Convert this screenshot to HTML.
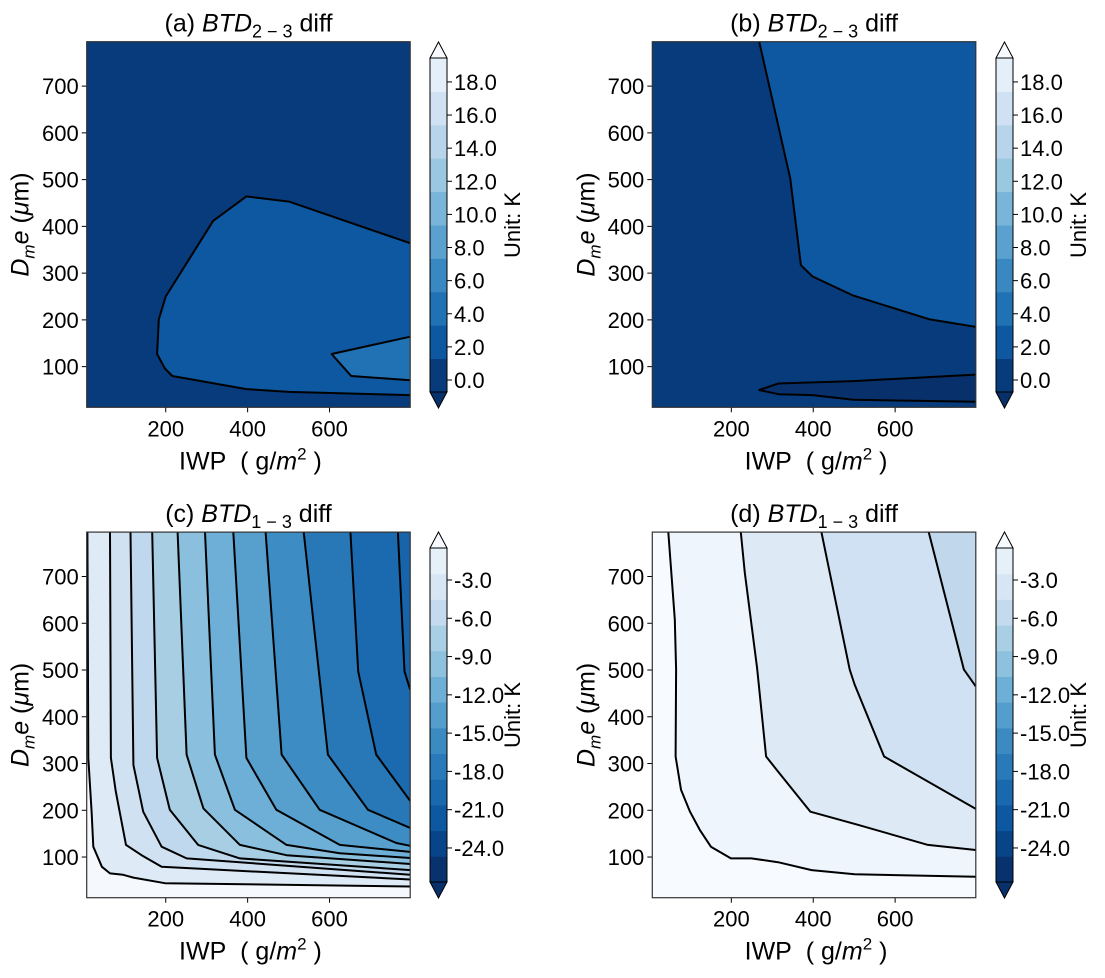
<!DOCTYPE html>
<html><head><meta charset="utf-8">
<style>
html,body{margin:0;padding:0;background:#fff;}
svg{display:block;font-family:"Liberation Sans","DejaVu Sans",sans-serif;}
</style></head>
<body>
<svg id="fig" width="1105" height="978" viewBox="0 0 1105 978" xmlns="http://www.w3.org/2000/svg"></svg>
<script>
// ---- data (x: IWP g/m2, y: Dme um) ----
const xTicks = [200, 400, 600];
const yTicks = [100, 200, 300, 400, 500, 600, 700];
const cbTopTicks = [0, 2, 4, 6, 8, 10, 12, 14, 16, 18];
const cbBotTicks = [-3, -6, -9, -12, -15, -18, -21, -24];
const cbTopColors = ["#083b7b","#0d58a1","#2171b5","#3a88c1","#5aa1cf","#79b5d9","#9ac8e0","#b7d4ea","#cfe1f2","#e5eff9"];
const cbBotColors = ["#08326e","#084488","#0d58a1","#1a68ae","#2a7ab9","#3b8bc2","#539ecd","#6dafd7","#8dc1dd","#a9cfe5","#c4daee","#d6e6f4","#e6f0f9"];

// panel (a)
const aColors = ["#083b7b","#0d58a1","#2171b5"];
const aContour1 = [[797,364],[501,453],[397,464],[316,412],[200,250],[183,201],[179,127],[198,96],[216,80],[397,52],[501,46],[797,39]];
const aContour2 = [[797,164],[605,127],[653,80],[797,71]];
// panel (b)
const bColors = ["#083b7b","#0d58a1","#08306b"];
const bContour1 = [[268,795],[344,502],[370,317],[398,293],[498,252],[685,201],[797,185]];
const bLobe = [[797,83],[498,69],[315,64],[268,50],[315,41],[398,39],[498,29],[797,25]];
// panel (c)
const cColors = ["#f5f9fe","#deebf7","#d0e1f2","#c0d8ed","#a8cee4","#8abfdd","#6dafd7","#57a0ce","#3d8dc4","#2878b8","#1b69af","#1764ab"];
const cContours = [
  [[8.6,795],[11,312],[19,197],[23,122],[44,79],[64,65],[96,62],[121,56],[198,44],[797,37]],
  [[64,795],[66,312],[78,240],[103,126],[141,104],[190,79],[797,52]],
  [[114,795],[121,297],[145,197],[190,122],[251,97],[797,62]],
  [[167,795],[179,312],[210,201],[279,126],[381,97],[797,72]],
  [[229,795],[251,319],[292,204],[381,126],[495,104],[797,85]],
  [[296,795],[320,319],[369,201],[495,126],[625,108],[797,98]],
  [[365,795],[397,312],[470,201],[625,126],[797,111]],
  [[444,795],[483,319],[576,201],[763,130],[797,124]],
  [[537,795],[596,319],[694,201],[797,162]],
  [[651,795],[670,497],[714,319],[797,220]],
  [[767,795],[783,497],[797,458]]
];
// panel (d)
const dColors = ["#f7fbff","#eef5fc","#ddeaf6","#cfe1f2","#c0d7ec"];
const dContours = [
  [[46,795],[62,608],[65,501],[64,315],[77,244],[99,197],[123,158],[150,122],[199,97],[249,97],[314,89],[396,72],[501,63],[797,58]],
  [[223,795],[233,708],[263,504],[285,315],[314,283],[393,197],[509,169],[680,126],[797,115]],
  [[420,795],[489,501],[501,469],[573,315],[797,203]],
  [[682,795],[768,501],[797,465]]
];

const NS = "http://www.w3.org/2000/svg";
const svg = document.getElementById("fig");
const XMIN = 7, XMAX = 797, YMIN = 13, YMAX = 795;
const PW = 323.5, PH = 365.6;
const TICK_FS = 22;
function mk(tag, attrs, parent) {
  const e = document.createElementNS(NS, tag);
  for (const k in attrs) e.setAttribute(k, attrs[k]);
  (parent || svg).appendChild(e);
  return e;
}
function axes(left, top) {
  return {
    x: v => left + (v - XMIN) / (XMAX - XMIN) * PW,
    y: v => top + PH - (v - YMIN) / (YMAX - YMIN) * PH
  };
}
function ptsStr(ax, arr) { return arr.map(p => ax.x(p[0]).toFixed(1) + "," + ax.y(p[1]).toFixed(1)).join(" "); }

function panel(id, left, top, title, sub) {
  const g = mk("g", {});
  
  
  const ax = axes(left, top);
  const clipId = "clip" + id;
  const cp = mk("clipPath", {id: clipId}, g);
  mk("rect", {x: left, y: top, width: PW, height: PH}, cp);
  const plot = mk("g", {"clip-path": "url(#" + clipId + ")"}, g);
  
  
  const t = mk("text", {x: left + PW / 2, y: top - 10, "text-anchor": "middle", "font-size": 25, fill: "#000"}, g);
  
  
  t.innerHTML = "(" + id + ") <tspan font-style=\"italic\">BTD</tspan><tspan font-size=\"18\" dy=\"6\">" + sub + "</tspan><tspan dy=\"-6\"> diff</tspan>";
  xTicks.forEach(v => {
    const X = ax.x(v);
    mk("line", {x1: X, x2: X, y1: top + PH, y2: top + PH + 5, stroke: "#000", "stroke-width": 1}, g);
    const tl = mk("text", {x: X, y: top + PH + 29, "text-anchor": "middle", "font-size": TICK_FS}, g);
    
    
    tl.textContent = v;
  });
  yTicks.forEach(v => {
    const Y = ax.y(v);
    mk("line", {x1: left - 5, x2: left, y1: Y, y2: Y, stroke: "#000", "stroke-width": 1}, g);
    const tl = mk("text", {x: left - 8, y: Y + 8, "text-anchor": "end", "font-size": TICK_FS}, g);
    
    
    tl.textContent = v;
  });
  const xl = mk("text", {x: left + PW / 2 + 2, y: top + PH + 62, "text-anchor": "middle", "font-size": 25, "xml:space": "preserve"}, g);
  
  
  xl.innerHTML = "IWP&#160;&#160;( g/<tspan font-style=\"italic\">m</tspan><tspan font-size=\"17\" dy=\"-10\">2</tspan><tspan dy=\"10\">&#160;)</tspan>";
  const yl = mk("text", {transform: "translate(" + (left - 58) + "," + (top + PH / 2) + ") rotate(-90)", "text-anchor": "middle", "font-size": 25}, g);
  
  
  yl.innerHTML = "<tspan font-style=\"italic\">D</tspan><tspan font-size=\"17\" dy=\"6\" font-style=\"italic\">m</tspan><tspan dy=\"-6\" font-style=\"italic\">e</tspan> (<tspan font-style=\"italic\">μ</tspan>m)";
  return {ax, plot, g, left, top};
}
function bg(P, color) { mk("rect", {x: P.left, y: P.top, width: PW, height: PH, fill: color}, P.plot); }
function regionCorner(P, arr, color) {
  const e = mk("polygon", {points: ptsStr(P.ax, arr.concat([[XMAX + 20, YMAX + 20]])), fill: color, stroke: "none"}, P.plot);
  
  
}
function regionClosed(P, arr, color) {
  const e = mk("polygon", {points: ptsStr(P.ax, arr), fill: color, stroke: "none"}, P.plot);
  
  
}
function line(P, arr) {
  const e = mk("polyline", {points: ptsStr(P.ax, arr), fill: "none", stroke: "#000", "stroke-width": 2, "stroke-linejoin": "round"}, P.plot);
  
  
}
function frame(P) { mk("rect", {x: P.left, y: P.top, width: PW, height: PH, fill: "none", stroke: "#333", "stroke-width": 1.2}, P.g); }

function colorbar(x, top, bot, colors, ticks, valToY, name) {
  const g = mk("g", {});
  
  
  const w = 17, n = colors.length, bh = (bot - top) / n;
  colors.forEach((c, i) => {
    mk("rect", {x: x, y: bot - (i + 1) * bh, width: w, height: bh + 0.5, fill: c}, g);
  });
  mk("polygon", {points: `${x},${top} ${x + w / 2},${top - 16} ${x + w},${top}`, fill: "#f7fbff", stroke: "#000", "stroke-width": 1}, g);
  mk("polygon", {points: `${x},${bot} ${x + w / 2},${bot + 16} ${x + w},${bot}`, fill: "#08306b", stroke: "#000", "stroke-width": 1}, g);
  mk("polyline", {points: `${x},${top} ${x},${bot}`, stroke: "#000", "stroke-width": 1}, g);
  mk("polyline", {points: `${x + w},${top} ${x + w},${bot}`, stroke: "#000", "stroke-width": 1}, g);
  ticks.forEach(v => {
    const Y = valToY(v);
    mk("line", {x1: x + w, x2: x + w + 5, y1: Y, y2: Y, stroke: "#000"}, g);
    const t = mk("text", {x: x + w + 7, y: Y + 8, "font-size": TICK_FS}, g);
    
    
    t.textContent = v.toFixed(1);
  });
  const mid = (top + bot) / 2;
  const u = mk("text", {transform: `translate(${x + 90},${mid}) rotate(-90)`, "text-anchor": "middle", "font-size": 22}, g);
  
  
  u.textContent = "Unit: K";
}

const A = panel("a", 86.7, 41.7, "a", "2 − 3");
bg(A, aColors[0]);
regionClosed(A, aContour1, aColors[1]);
regionClosed(A, aContour2, aColors[2]);
line(A, aContour1); line(A, aContour2);
frame(A);
const B = panel("b", 652.3, 41.7, "b", "2 − 3");
bg(B, bColors[0]);
regionCorner(B, bContour1, bColors[1]);
regionClosed(B, bLobe, bColors[2]);
line(B, bContour1); line(B, bLobe);
frame(B);
const C = panel("c", 86.7, 532.1, "c", "1 − 3");
bg(C, cColors[0]);
cContours.forEach((c, i) => regionCorner(C, c, cColors[i + 1]));
cContours.forEach(c => line(C, c));
frame(C);
const D = panel("d", 652.3, 532.1, "d", "1 − 3");
bg(D, dColors[0]);
dContours.forEach((c, i) => regionCorner(D, c, dColors[i + 1]));
dContours.forEach(c => line(D, c));
frame(D);

colorbar(430, 58, 392, cbTopColors, cbTopTicks, v => 380 - v * 16.56, "colorbar-a");
colorbar(996, 58, 392, cbTopColors, cbTopTicks, v => 380 - v * 16.56, "colorbar-b");
colorbar(430, 548, 882, cbBotColors, cbBotTicks, v => 580 + (-3 - v) * 12.76, "colorbar-c");
colorbar(996, 548, 882, cbBotColors, cbBotTicks, v => 580 + (-3 - v) * 12.76, "colorbar-d");
</script>
</body></html>
